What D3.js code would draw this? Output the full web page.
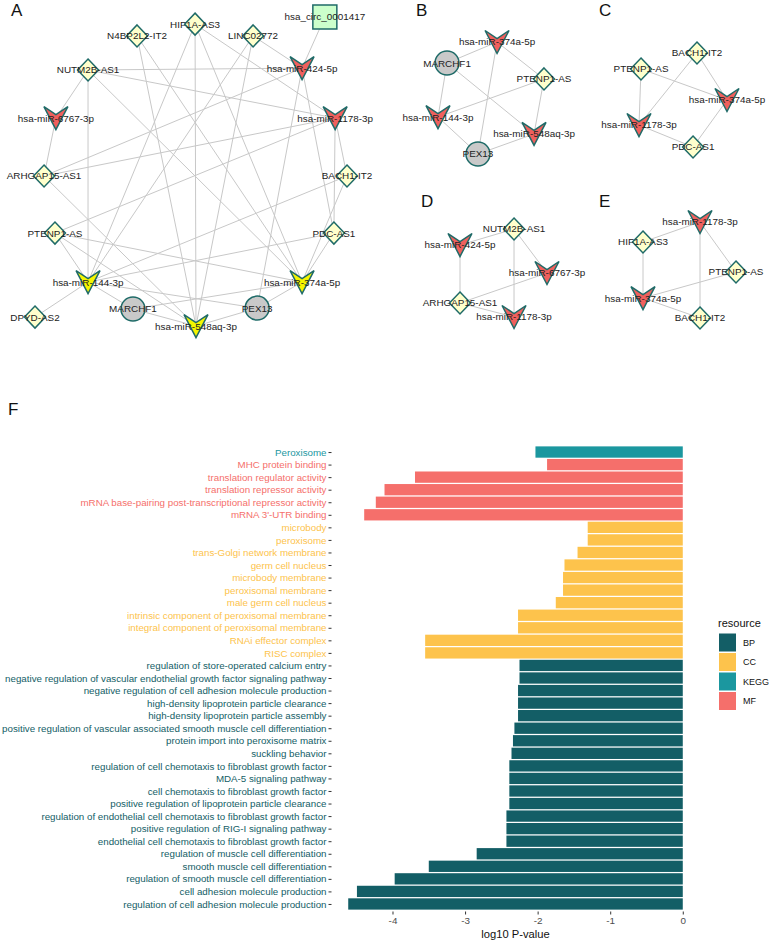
<!DOCTYPE html>
<html><head><meta charset="utf-8">
<script src="https://cdn.jsdelivr.net/npm/d3@7"></script>
<style>body{margin:0;background:#fff}svg{display:block;font-family:"Liberation Sans",Arial,sans-serif}</style>
</head><body>
<script>
// ---------- Network data (layout coordinates are normalised 0..1 inside each panel) ----------
const nodesA_name = ["hsa_circ_0001417","N4BP2L2-IT2","HIF1A-AS3","LINC02772","hsa-miR-424-5p","NUTM2B-AS1","hsa-miR-6767-3p","hsa-miR-1178-3p","ARHGAP15-AS1","BACH1-IT2","PTENP1-AS","PDC-AS1","hsa-miR-144-3p","hsa-miR-374a-5p","DPYD-AS2","MARCHF1","PEX13","hsa-miR-548aq-3p"];
const nodesA_type = ["circ","lnc","lnc","lnc","mir","lnc","mir","mir","lnc","lnc","lnc","lnc","hub","hub","lnc","mrna","mrna","hub"];
const nodesA_lx = [0.929,0.327,0.513,0.699,0.856,0.170,0.067,0.962,0.029,1.000,0.064,0.958,0.170,0.856,0.000,0.314,0.712,0.516];
const nodesA_ly = [0.000,0.061,0.023,0.061,0.165,0.171,0.326,0.326,0.513,0.513,0.697,0.697,0.855,0.855,0.968,0.942,0.939,0.997];
const edgesA = [
 ["hsa_circ_0001417","hsa-miR-424-5p"],
 ["N4BP2L2-IT2","hsa-miR-548aq-3p"],["N4BP2L2-IT2","hsa-miR-374a-5p"],
 ["HIF1A-AS3","hsa-miR-548aq-3p"],["HIF1A-AS3","hsa-miR-1178-3p"],["HIF1A-AS3","hsa-miR-374a-5p"],["HIF1A-AS3","hsa-miR-144-3p"],
 ["LINC02772","hsa-miR-424-5p"],["LINC02772","hsa-miR-144-3p"],["LINC02772","hsa-miR-548aq-3p"],
 ["NUTM2B-AS1","hsa-miR-424-5p"],["NUTM2B-AS1","hsa-miR-6767-3p"],["NUTM2B-AS1","hsa-miR-1178-3p"],["NUTM2B-AS1","hsa-miR-144-3p"],["NUTM2B-AS1","hsa-miR-374a-5p"],
 ["ARHGAP15-AS1","hsa-miR-424-5p"],["ARHGAP15-AS1","hsa-miR-6767-3p"],["ARHGAP15-AS1","hsa-miR-1178-3p"],["ARHGAP15-AS1","hsa-miR-548aq-3p"],
 ["PTENP1-AS","hsa-miR-144-3p"],["PTENP1-AS","hsa-miR-374a-5p"],["PTENP1-AS","hsa-miR-548aq-3p"],["PTENP1-AS","hsa-miR-1178-3p"],
 ["BACH1-IT2","hsa-miR-1178-3p"],["BACH1-IT2","hsa-miR-374a-5p"],["BACH1-IT2","hsa-miR-144-3p"],
 ["PDC-AS1","hsa-miR-1178-3p"],["PDC-AS1","hsa-miR-374a-5p"],["PDC-AS1","hsa-miR-144-3p"],["PDC-AS1","hsa-miR-424-5p"],
 ["DPYD-AS2","hsa-miR-144-3p"],
 ["MARCHF1","hsa-miR-144-3p"],["MARCHF1","hsa-miR-374a-5p"],["MARCHF1","hsa-miR-548aq-3p"],
 ["PEX13","hsa-miR-144-3p"],["PEX13","hsa-miR-374a-5p"],["PEX13","hsa-miR-548aq-3p"],["PEX13","hsa-miR-424-5p"]
];

const nodesB_name = ["hsa-miR-374a-5p","MARCHF1","PTENP1-AS","hsa-miR-144-3p","hsa-miR-548aq-3p","PEX13"];
const nodesB_type = ["mir","mrna","lnc","mir","mir","mrna"];
const nodesB_lx = [0.557,0.085,1.000,0.000,0.906,0.377];
const nodesB_ly = [0.000,0.188,0.330,0.670,0.821,1.000];
const edgesB = [["MARCHF1","hsa-miR-374a-5p"],["MARCHF1","hsa-miR-144-3p"],["MARCHF1","hsa-miR-548aq-3p"],["PTENP1-AS","hsa-miR-374a-5p"],["PTENP1-AS","hsa-miR-548aq-3p"],["PTENP1-AS","hsa-miR-144-3p"],["PEX13","hsa-miR-144-3p"],["PEX13","hsa-miR-374a-5p"],["PEX13","hsa-miR-548aq-3p"]];

const nodesC_name = ["BACH1-IT2","PTENP1-AS","hsa-miR-374a-5p","hsa-miR-1178-3p","PDC-AS1"];
const nodesC_type = ["lnc","lnc","mir","mir","lnc"];
const nodesC_lx = [0.659,0.023,1.000,0.000,0.614];
const nodesC_ly = [0.000,0.170,0.500,0.766,1.000];
const edgesC = [["PTENP1-AS","hsa-miR-1178-3p"],["PTENP1-AS","hsa-miR-374a-5p"],["BACH1-IT2","hsa-miR-1178-3p"],["BACH1-IT2","hsa-miR-374a-5p"],["PDC-AS1","hsa-miR-1178-3p"],["PDC-AS1","hsa-miR-374a-5p"]];

const nodesD_name = ["NUTM2B-AS1","hsa-miR-424-5p","hsa-miR-6767-3p","ARHGAP15-AS1","hsa-miR-1178-3p"];
const nodesD_type = ["lnc","mir","mir","lnc","mir"];
const nodesD_lx = [0.621,0.000,1.000,0.000,0.621];
const nodesD_ly = [0.000,0.182,0.500,0.841,1.000];
const edgesD = [["NUTM2B-AS1","hsa-miR-424-5p"],["NUTM2B-AS1","hsa-miR-6767-3p"],["NUTM2B-AS1","hsa-miR-1178-3p"],["ARHGAP15-AS1","hsa-miR-424-5p"],["ARHGAP15-AS1","hsa-miR-6767-3p"],["ARHGAP15-AS1","hsa-miR-1178-3p"]];

const nodesE_name = ["hsa-miR-1178-3p","HIF1A-AS3","PTENP1-AS","hsa-miR-374a-5p","BACH1-IT2"];
const nodesE_type = ["mir","lnc","lnc","mir","lnc"];
const nodesE_lx = [0.613,0.000,1.000,0.000,0.613];
const nodesE_ly = [0.000,0.208,0.521,0.792,1.000];
const edgesE = [["HIF1A-AS3","hsa-miR-1178-3p"],["HIF1A-AS3","hsa-miR-374a-5p"],["hsa-miR-1178-3p","PTENP1-AS"],["hsa-miR-1178-3p","BACH1-IT2"],["PTENP1-AS","hsa-miR-374a-5p"],["hsa-miR-374a-5p","BACH1-IT2"]];

// ---------- Enrichment data ----------
const terms = ["Peroxisome","MHC protein binding","translation regulator activity","translation repressor activity","mRNA base-pairing post-transcriptional repressor activity","mRNA 3'-UTR binding",
 "microbody","peroxisome","trans-Golgi network membrane","germ cell nucleus","microbody membrane","peroxisomal membrane","male germ cell nucleus","intrinsic component of peroxisomal membrane","integral component of peroxisomal membrane","RNAi effector complex","RISC complex",
 "regulation of store-operated calcium entry","negative regulation of vascular endothelial growth factor signaling pathway","negative regulation of cell adhesion molecule production","high-density lipoprotein particle clearance","high-density lipoprotein particle assembly","positive regulation of vascular associated smooth muscle cell differentiation","protein import into peroxisome matrix","suckling behavior","regulation of cell chemotaxis to fibroblast growth factor","MDA-5 signaling pathway","cell chemotaxis to fibroblast growth factor","positive regulation of lipoprotein particle clearance","regulation of endothelial cell chemotaxis to fibroblast growth factor","positive regulation of RIG-I signaling pathway","endothelial cell chemotaxis to fibroblast growth factor","regulation of muscle cell differentiation","smooth muscle cell differentiation","regulation of smooth muscle cell differentiation","cell adhesion molecule production","regulation of cell adhesion molecule production"];
const logP = [-2.03,-1.87,-3.69,-4.11,-4.23,-4.39,
 -1.31,-1.31,-1.45,-1.63,-1.65,-1.65,-1.75,-2.27,-2.27,-3.55,-3.55,
 -2.25,-2.25,-2.27,-2.27,-2.27,-2.32,-2.34,-2.36,-2.39,-2.39,-2.39,-2.39,-2.43,-2.43,-2.43,-2.84,-3.50,-3.97,-4.49,-4.61];
const resource = ["KEGG","MF","MF","MF","MF","MF",
 "CC","CC","CC","CC","CC","CC","CC","CC","CC","CC","CC",
 "BP","BP","BP","BP","BP","BP","BP","BP","BP","BP","BP","BP","BP","BP","BP","BP","BP","BP","BP","BP"];
const resourceKeys = ["BP","CC","KEGG","MF"];
const xTicks = [-4,-3,-2,-1,0];

// ---------- drawing ----------
const W = 771, H = 944;
const svg = d3.select("body").append("svg").attr("width", W).attr("height", H);

const fillOf = {lnc:"#FFFFCC", circ:"#CCFFCC", mir:"#F0605D", hub:"#F5F500", mrna:"#C9C9C9"};
const strokeCol = "#1F6B68";

function shapePath(t){
  if (t === "lnc") return "M0,-11L10.5,0L0,11L-10.5,0Z";
  if (t === "mir" || t === "hub") return "M-12,-11.5L0,-3.5L12,-11.5L0,11.5Z";
  if (t === "circ") return "M-12,-12H12V12H-12Z";
  return null;
}

function drawNet(names, types, lx, ly, edges, xr, yr, letter, lpos){
  const g = svg.append("g");
  const sx = d3.scaleLinear().domain([0,1]).range(xr);
  const sy = d3.scaleLinear().domain([0,1]).range(yr);
  const nodes = names.map((n,i)=>({name:n, type:types[i], x:sx(lx[i]), y:sy(ly[i])}));
  const byName = new Map(nodes.map(d=>[d.name,d]));
  g.append("g").selectAll("line").data(edges).join("line")
    .attr("x1",e=>byName.get(e[0]).x).attr("y1",e=>byName.get(e[0]).y)
    .attr("x2",e=>byName.get(e[1]).x).attr("y2",e=>byName.get(e[1]).y)
    .attr("stroke","#C8C8C8").attr("stroke-width",1);
  const ng = g.append("g").selectAll("g").data(nodes).join("g")
    .attr("transform",d=>`translate(${d.x},${d.y})`);
  ng.each(function(d){
    const s = d3.select(this);
    if (d.type === "mrna") s.append("circle").attr("r",12);
    else s.append("path").attr("d",shapePath(d.type));
    s.select(":first-child").attr("fill",fillOf[d.type]).attr("stroke",strokeCol).attr("stroke-width",1.5);
  });
  ng.append("text").text(d=>d.name).attr("text-anchor","middle").attr("dy","0.35em")
    .attr("font-size",9.9).attr("fill","#222");
  svg.append("text").text(letter).attr("x",lpos[0]).attr("y",lpos[1]).attr("font-size",17).attr("fill","#111");
}

drawNet(nodesA_name,nodesA_type,nodesA_lx,nodesA_ly,edgesA,[35,347],[17,327],"A",[11,16]);
drawNet(nodesB_name,nodesB_type,nodesB_lx,nodesB_ly,edgesB,[438,544],[42,154],"B",[416,16]);
drawNet(nodesC_name,nodesC_type,nodesC_lx,nodesC_ly,edgesC,[639,727],[53,147],"C",[599,16]);
drawNet(nodesD_name,nodesD_type,nodesD_lx,nodesD_ly,edgesD,[460,547],[229,317],"D",[421,207]);
drawNet(nodesE_name,nodesE_type,nodesE_lx,nodesE_ly,edgesE,[643,736],[222,318],"E",[599,207]);

// ---------- Panel F ----------
svg.append("text").text("F").attr("x",8).attr("y",415).attr("font-size",17).attr("fill","#111");
const color = d3.scaleOrdinal().domain(resourceKeys).range(["#135E66","#FDC34C","#1B979F","#F56F6B"]);
const minV = d3.min(logP), span = 0 - minV;
const x = d3.scaleLinear().domain([minV - span*0.05, 0 + span*0.05]).range([331.5, 699.5]);
const y = d3.scalePoint().domain(terms).range([444.5, 911.5]).padding(0.6);
const bh = y.step()*0.9;
const rows = terms.map((t,i)=>({term:t, v:logP[i], r:resource[i]}));

svg.append("g").selectAll("rect").data(rows).join("rect")
  .attr("x",d=>x(d.v)).attr("width",d=>x(0)-x(d.v))
  .attr("y",d=>y(d.term)-bh/2).attr("height",bh)
  .attr("fill",d=>color(d.r));

const yAxis = svg.append("g").attr("transform","translate(331.5,0)")
  .call(d3.axisLeft(y).tickSize(3).tickPadding(2));
yAxis.select(".domain").remove();
yAxis.selectAll(".tick line").attr("stroke","#333");
yAxis.selectAll(".tick text").attr("font-size",9.75).attr("font-family","Liberation Sans, Arial")
  .attr("fill",(t,i)=>color(resource[i]));

const xAxis = svg.append("g").attr("transform","translate(0,911.5)")
  .call(d3.axisBottom(x).tickValues(xTicks).tickFormat(d=>String(d)).tickSize(3).tickPadding(2));
xAxis.select(".domain").remove();
xAxis.selectAll(".tick line").attr("stroke","#333");
xAxis.selectAll(".tick text").attr("font-size",9.9).attr("font-family","Liberation Sans, Arial").attr("fill","#4D4D4D");

svg.append("text").text("log10 P-value").attr("x",(331.5+699.5)/2).attr("y",938)
  .attr("text-anchor","middle").attr("font-size",11.2).attr("fill","#111");

// legend
const lg = svg.append("g").attr("transform","translate(718,0)");
lg.append("text").text("resource").attr("x",0).attr("y",627).attr("font-size",11).attr("fill","#111");
const ky = d3.scaleBand().domain(resourceKeys).range([633, 711]);
lg.selectAll("rect").data(resourceKeys).join("rect")
  .attr("x",1).attr("y",k=>ky(k)+0.5).attr("width",17).attr("height",ky.bandwidth()-1.5).attr("fill",k=>color(k));
lg.selectAll("text.k").data(resourceKeys).join("text").attr("class","k")
  .text(k=>k).attr("x",25).attr("y",k=>ky(k)+ky.bandwidth()/2).attr("dy","0.35em")
  .attr("font-size",9).attr("fill","#111");
</script>
</body></html>
